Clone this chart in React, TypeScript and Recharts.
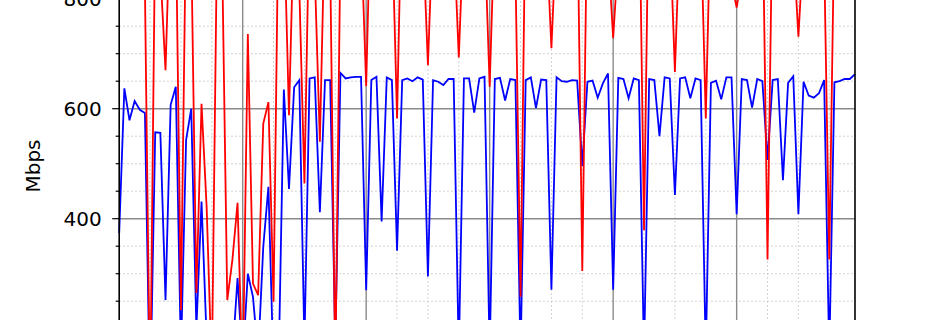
import React from "react";
import { LineChart, Line, XAxis, YAxis, ReferenceLine } from "recharts";

// hourly throughput, 6 days (values beyond the visible window are estimates)
const blueMbps = [
  374, 637, 579, 614, 598, 592, 60, 557, 556, 252, 607, 640,
  150, 543, 600, 200, 431, 180, 120, 100, 130, 110, 150, 292,
  140, 300, 258, 150, 349, 458, 120, 140, 635, 454, 639, 652,
  170, 655, 657, 412, 652, 652, 170, 665, 655, 657, 658, 658,
  270, 652, 658, 395, 657, 652, 342, 652, 655, 650, 657, 653,
  295, 652, 649, 643, 654, 654, 150, 655, 655, 593, 655, 658,
  150, 654, 656, 615, 654, 652, 150, 652, 657, 601, 653, 652,
  271, 657, 650, 649, 652, 651, 496, 649, 651, 620, 646, 664,
  271, 656, 654, 619, 655, 652, 150, 654, 652, 550, 657, 655,
  443, 655, 657, 619, 655, 652, 150, 647, 651, 617, 657, 657,
  408, 654, 652, 602, 654, 650, 507, 652, 654, 470, 647, 659,
  408, 649, 624, 620, 628, 652, 150, 648, 650, 654, 654, 663,
];

const redMbps = [
  980, 1010, 960, 990, 950, 820, 60, 940, 850, 670, 980, 950,
  234, 960, 900, 265, 609, 420, 120, 900, 880, 252, 325, 429,
  100, 736, 282, 261, 573, 612, 249, 1000, 950, 588, 960, 820,
  464, 980, 850, 540, 960, 870, 120, 900, 1000, 980, 1010, 920,
  641, 1020, 990, 1000, 970, 945, 582, 1030, 1000, 990, 1010, 920,
  679, 940, 1000, 980, 990, 920, 693, 940, 1000, 1010, 990, 920,
  640, 950, 1000, 990, 1000, 860, 258, 1010, 1000, 990, 1010, 920,
  710, 930, 1000, 990, 1000, 1000, 305, 1000, 1000, 990, 1010, 890,
  728, 880, 1000, 990, 1000, 1050, 379, 1050, 1000, 990, 1010, 930,
  667, 940, 1000, 990, 1000, 950, 582, 980, 1000, 990, 1010, 830,
  784, 840, 1000, 990, 1000, 1000, 326, 1000, 1000, 990, 1010, 900,
  731, 900, 1000, 990, 1000, 880, 326, 950, 1000, 990, 1010, 1000,
];

const yTicks = [
  0, 50, 100, 150, 200, 250, 300, 350, 400, 450, 500, 550,
  600, 650, 700, 750, 800, 850, 900, 950, 1000, 1050, 1100,
];
const yLabels = [400, 600, 800]; // the labelled ticks inside the window
const yMajor = [200, 400, 600, 800, 1000];
const yMinor = [50, 100, 150, 250, 300, 350, 450, 500, 550, 650, 700, 750, 850, 900, 950, 1050];
const xMajor = [24, 48, 72, 96, 120];
const xMinor = [6, 12, 18, 30, 36, 42, 54, 60, 66, 78, 84, 90, 102, 108, 114, 126, 132, 138];

const data = blueMbps.map((b, i) => ({ hour: i, blue: b, red: redMbps[i] }));

const FONT = "DejaVu Sans, sans-serif";

function YTick({ x, y, payload }: any) {
  const major = payload.value % 200 === 0;
  const labelled = yLabels.includes(payload.value);
  return (
    <g>
      <line x1={x - (major ? 7 : 3.5)} x2={x} y1={y} y2={y} stroke="#000" strokeWidth={1.2} />
      {labelled && (
        <text
          x={x - 17.5}
          y={y}
          textAnchor="end"
          dominantBaseline="central"
          fontSize={20}
          fontFamily={FONT}
          fill="#000"
        >
          {payload.value}
        </text>
      )}
    </g>
  );
}

function MbpsLabel() {
  return (
    <text
      x={40}
      y={366}
      transform="rotate(-90 40 366)"
      textAnchor="middle"
      fontSize={20}
      fontFamily={FONT}
      fill="#000"
    >
      Mbps
    </text>
  );
}

export default function App() {
  return (
    <div style={{ position: "absolute", left: 0, top: 0, width: 950, height: 320, overflow: "hidden", background: "#fff" }}>
      <div style={{ position: "absolute", left: 0, top: -200 }}>
        <LineChart
          width={950}
          height={700}
          data={data}
          margin={{ top: 33.7, right: 95, left: 0, bottom: 61.3 }}
        >
          <XAxis dataKey="hour" type="number" domain={[0, 143]} hide />
          <YAxis
            type="number"
            domain={[0, 1100]}
            allowDataOverflow
            ticks={yTicks}
            interval={0}
            width={119.2}
            tickSize={0}
            tickMargin={0}
            tickLine={false}
            tick={<YTick />}
            axisLine={{ stroke: "#000", strokeWidth: 1.6 }}
            label={<MbpsLabel />}
          />
          {yMinor.map((v) => (
            <ReferenceLine key={`ym${v}`} y={v} stroke="#c4c4c4" strokeWidth={1} strokeDasharray="1.5 2.5" />
          ))}
          {xMinor.map((v) => (
            <ReferenceLine key={`xm${v}`} x={v} stroke="#c4c4c4" strokeWidth={1} strokeDasharray="1.5 2.5" />
          ))}
          {yMajor.map((v) => (
            <ReferenceLine key={`yM${v}`} y={v} stroke="#8a8a8a" strokeWidth={1.4} />
          ))}
          {xMajor.map((v) => (
            <ReferenceLine key={`xM${v}`} x={v} stroke="#8a8a8a" strokeWidth={1.4} />
          ))}
          <Line
            type="linear"
            dataKey="blue"
            stroke="#0000ff"
            strokeWidth={1.8}
            dot={false}
            isAnimationActive={false}
          />
          <Line
            type="linear"
            dataKey="red"
            stroke="#ff0000"
            strokeWidth={1.8}
            dot={false}
            isAnimationActive={false}
          />
          <ReferenceLine x={143} stroke="#000" strokeWidth={1.6} />
        </LineChart>
      </div>
    </div>
  );
}
